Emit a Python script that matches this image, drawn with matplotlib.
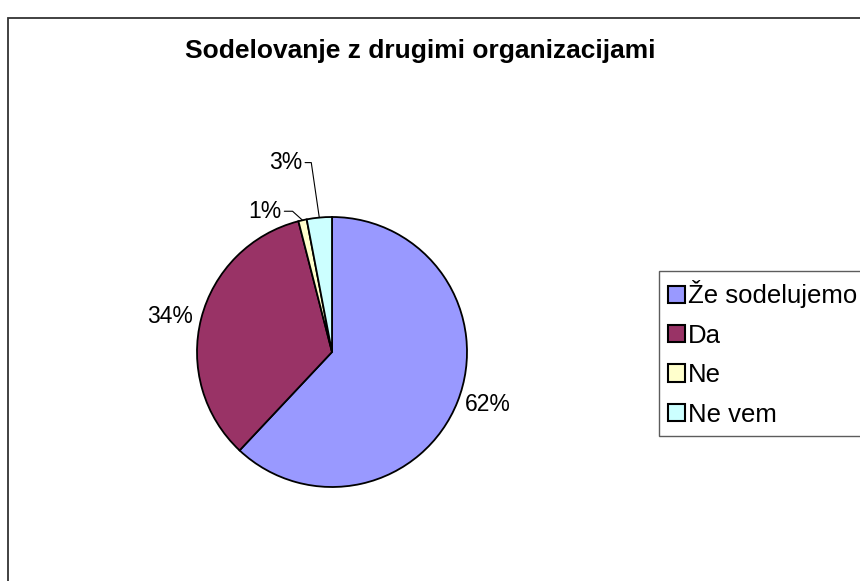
import numpy as np
import matplotlib
matplotlib.use("Agg")
import matplotlib.pyplot as plt
from matplotlib.patches import Rectangle

plt.rcParams['font.family'] = ['Liberation Sans', 'DejaVu Sans']

title = "Sodelovanje z drugimi organizacijami"
categories = ["Že sodelujemo", "Da", "Ne", "Ne vem"]
values = [62, 34, 1, 3]
colors = ["#9999FF", "#993366", "#FFFFCC", "#CCFFFF"]

W, H = 860, 581
fig = plt.figure(figsize=(W / 100, H / 100), dpi=100)

# outer chart border (right/bottom edges run off the canvas)
fig.patches.append(Rectangle((8 / W, -0.1), 1.2, 1 - 18 / H + 0.1,
                             transform=fig.transFigure, fill=False,
                             edgecolor="#333333", linewidth=1.3))

fig.text(420 / W, 1 - 58 / H, title, ha="center", va="baseline",
         fontsize=19, fontweight="bold")

cx, cy, r = 332, 352, 135
ax = fig.add_axes([(cx - r) / W, (H - cy - r) / H, 2 * r / W, 2 * r / H])
wedges, _ = ax.pie(values, colors=colors, startangle=90, counterclock=False,
                   wedgeprops=dict(edgecolor="black", linewidth=1.3))
ax.set_xlim(-1, 1)
ax.set_ylim(-1, 1)
ax.set_aspect("equal")
ax.axis("off")

# leader-line label offsets (pixels) for the thin slices: text edge, corner x
leader = {1: ((-21, 9), -10), 3: ((-17, 55), -8)}

for w, v in zip(wedges, values):
    mid = np.deg2rad((w.theta1 + w.theta2) / 2)
    x, y = np.cos(mid), np.sin(mid)
    lab = f"{v}%"
    if v >= 10:
        ax.text(1.06 * x, 1.06 * y, lab, fontsize=16.5,
                ha="left" if x > 0 else "right", va="center")
    else:
        (dx, dy), kx = leader[v]
        angB = np.degrees(np.arctan2(dy, kx))
        ax.annotate(lab, xy=(x, y), xytext=(dx, dy), textcoords="offset pixels",
                    fontsize=16.5, ha="right", va="center",
                    annotation_clip=False,
                    arrowprops=dict(arrowstyle="-", color="black", lw=0.8,
                                    shrinkA=0, shrinkB=0,
                                    connectionstyle=f"angle,angleA=0,angleB={angB:.1f},rad=0"))

leg = fig.legend(wedges, categories, loc="upper left",
                 bbox_to_anchor=(659 / W, 1 - 271 / H), borderaxespad=0,
                 fontsize=18.5, frameon=True, fancybox=False,
                 handlelength=0.65, handleheight=0.65, handletextpad=0.1,
                 labelspacing=0.6, borderpad=0.36)
leg.get_frame().set_edgecolor("#333333")
leg.get_frame().set_linewidth(1.0)
for h in leg.legend_handles:
    h.set_edgecolor("black")
    h.set_linewidth(1.5)

fig.savefig("out.png", dpi=100)
